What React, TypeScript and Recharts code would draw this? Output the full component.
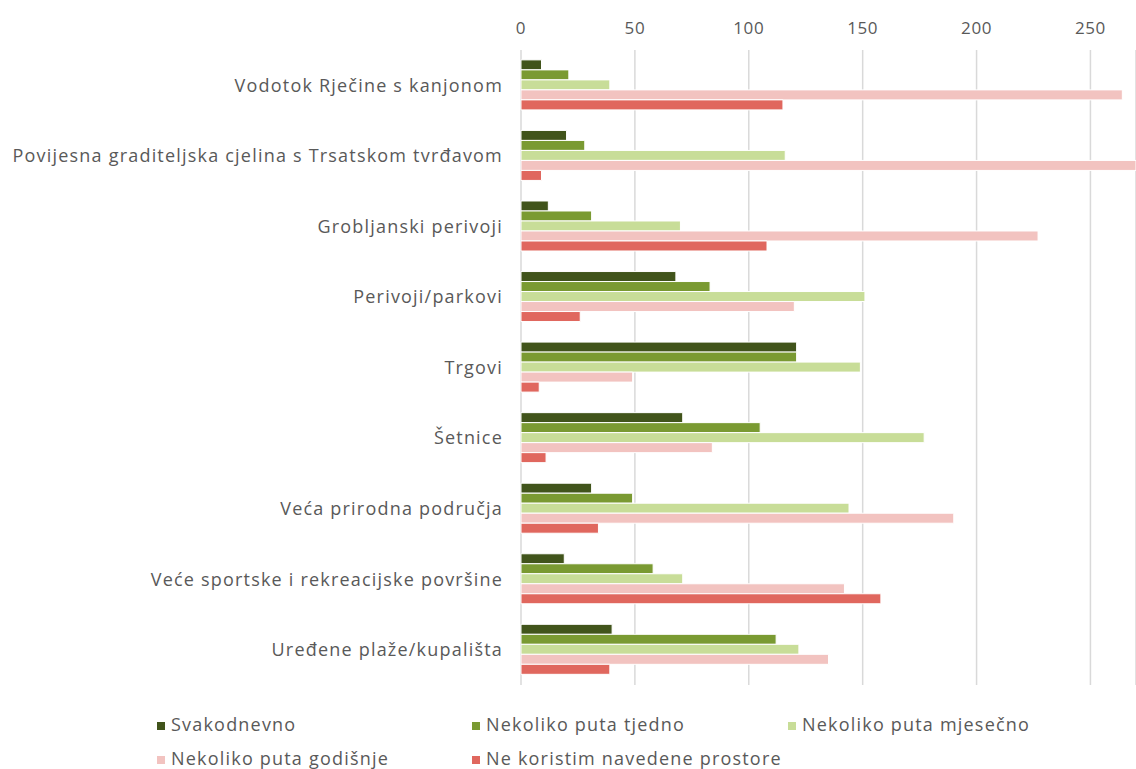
import React from 'react';
import { BarChart, Bar, XAxis, YAxis, CartesianGrid } from 'recharts';

const categories = [
  'Vodotok Rječine s kanjonom',
  'Povijesna graditeljska cjelina s Trsatskom tvrđavom',
  'Grobljanski perivoji',
  'Perivoji/parkovi',
  'Trgovi',
  'Šetnice',
  'Veća prirodna područja',
  'Veće sportske i rekreacijske površine',
  'Uređene plaže/kupališta',
];

const svakodnevno = [9, 20, 12, 68, 121, 71, 31, 19, 40];
const tjedno = [21, 28, 31, 83, 121, 105, 49, 58, 112];
const mjesecno = [39, 116, 70, 151, 149, 177, 144, 71, 122];
const godisnje = [264, 270, 227, 120, 49, 84, 190, 142, 135];
const neKoristim = [115, 9, 108, 26, 8, 11, 34, 158, 39];

const seriesNames = [
  'Svakodnevno',
  'Nekoliko puta tjedno',
  'Nekoliko puta mjesečno',
  'Nekoliko puta godišnje',
  'Ne koristim navedene prostore',
];
const seriesKeys = ['s1', 's2', 's3', 's4', 's5'];
const seriesColors = ['#41541b', '#7a9a32', '#c8dd98', '#f2c3c0', '#e0675e'];
const xTicks = [0, 50, 100, 150, 200, 250];

const data = categories.map((name, i) => ({
  name,
  s1: svakodnevno[i],
  s2: tjedno[i],
  s3: mjesecno[i],
  s4: godisnje[i],
  s5: neKoristim[i],
}));

const FONT = '"Open Sans", "DejaVu Sans", sans-serif';
const TEXT = '#595959';

const legendLeft = [157, 472, 788];
const legendTop = [724, 758];

export default function App() {
  return (
    <div style={{ position: 'absolute', left: 0, top: 0, width: 1136, height: 769, background: '#fff', fontFamily: FONT, overflow: 'hidden' }}>
      <BarChart
        width={1136}
        height={700}
        data={data}
        layout="vertical"
        margin={{ top: 20, right: 0, bottom: 15, left: 0 }}
        barCategoryGap="14%"
        barGap={0}
      >
        <CartesianGrid horizontal={false} vertical stroke="#d9d9d9" strokeWidth={1.5} />
        <XAxis
          type="number"
          orientation="top"
          domain={[0, 270]}
          ticks={xTicks}
          axisLine={false}
          tickLine={false}
          height={30}
          tickMargin={10}
          tick={{ fill: TEXT, fontSize: 17, fontFamily: FONT, style: { letterSpacing: '0.6px' } }}
        />
        <YAxis
          type="category"
          dataKey="name"
          width={521}
          axisLine={false}
          tickLine={false}
          tickMargin={12}
          interval={0}
          tick={{ fill: TEXT, fontSize: 18, fontFamily: FONT, style: { letterSpacing: '1.2px' } }}
        />
        {seriesKeys.map((k, i) => (
          <Bar
            key={k}
            dataKey={k}
            name={seriesNames[i]}
            fill={seriesColors[i]}
            stroke="#ffffff"
            strokeWidth={1}
            isAnimationActive={false}
          />
        ))}
      </BarChart>
      {seriesNames.map((n, i) => {
        const col = i % 3;
        const row = Math.floor(i / 3);
        return (
          <div
            key={n}
            style={{
              position: 'absolute',
              left: legendLeft[col],
              top: legendTop[row] - 10,
              height: 20,
              lineHeight: '20px',
              display: 'flex',
              alignItems: 'center',
              color: TEXT,
              fontSize: 18,
              letterSpacing: '1.2px',
              whiteSpace: 'nowrap',
            }}
          >
            <span style={{ display: 'inline-block', width: 8, height: 8, background: seriesColors[i], marginRight: 6, marginTop: 3 }} />
            {n}
          </div>
        );
      })}
    </div>
  );
}
